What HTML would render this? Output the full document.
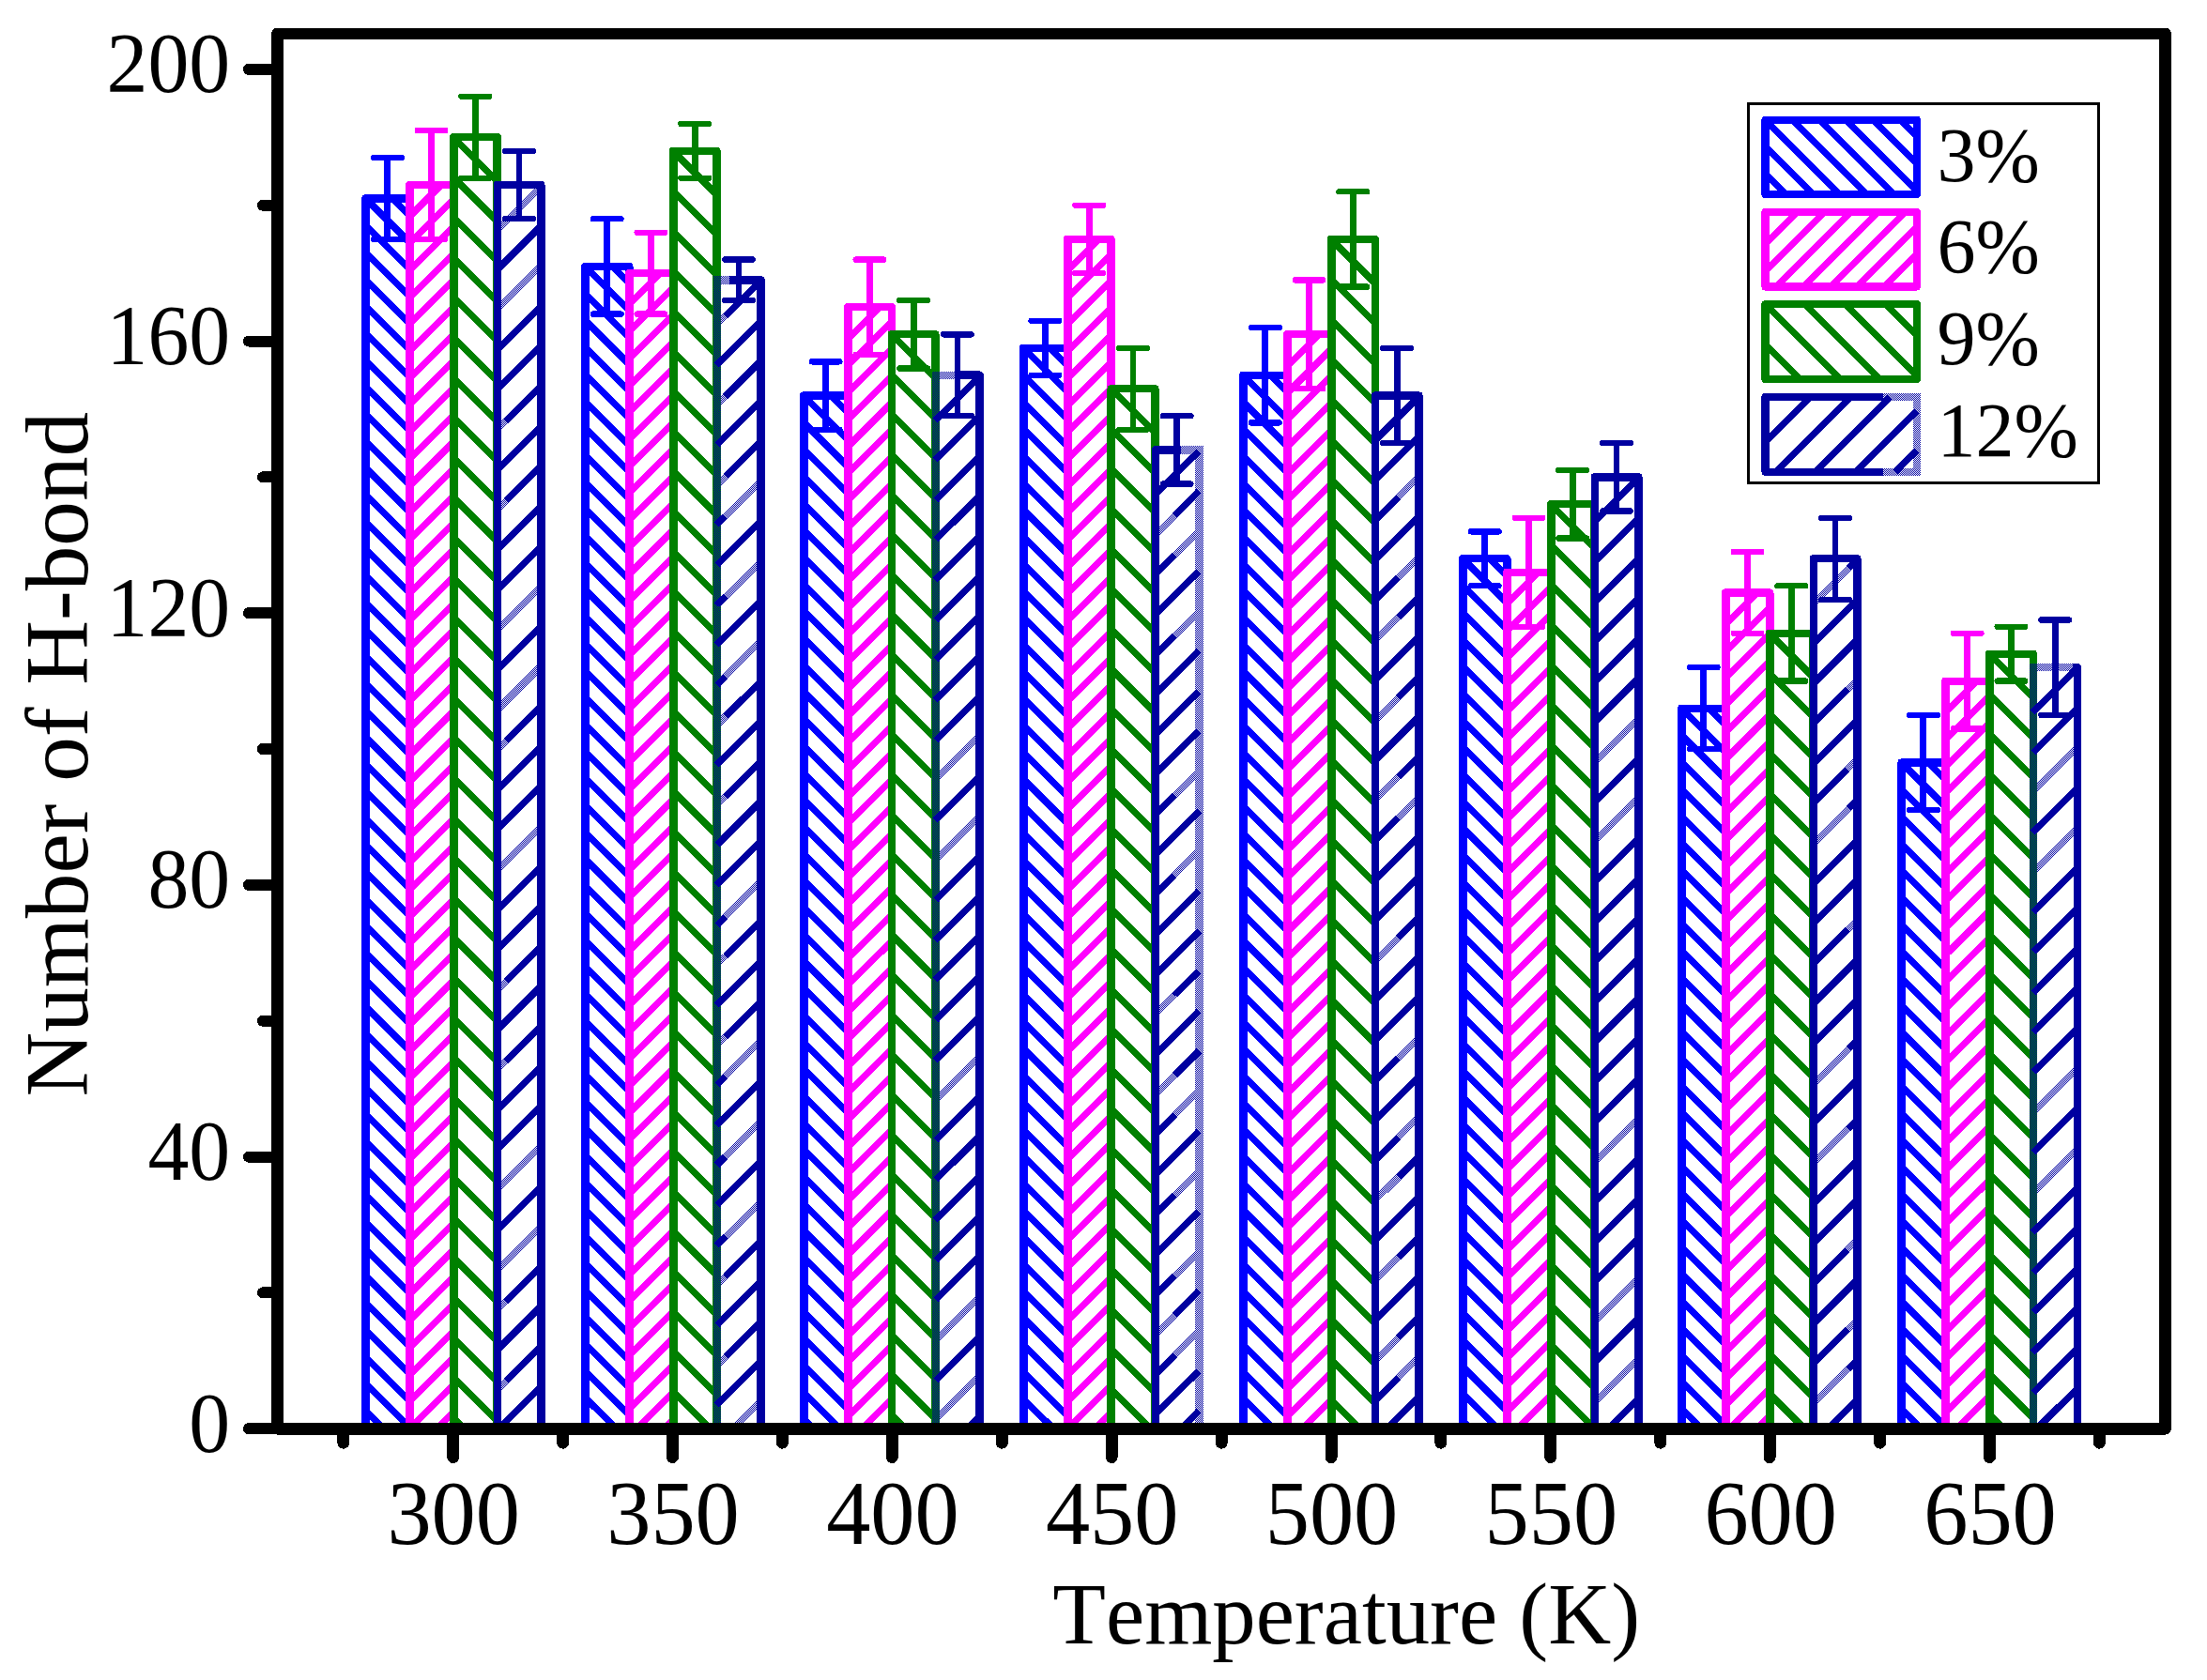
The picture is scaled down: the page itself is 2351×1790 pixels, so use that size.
<!DOCTYPE html>
<html lang="en"><head><meta charset="utf-8"><title>Number of H-bond vs Temperature</title>
<style>html,body{margin:0;padding:0;background:#fff;overflow:hidden}svg{display:block}text{font-kerning:none;font-family:"Liberation Serif","Times New Roman",serif;fill:#000}</style></head><body>
<svg width="2351" height="1790" viewBox="0 0 2351 1790">
<rect width="2351" height="1790" fill="#fff"/>
<defs><pattern id="dl" width="2" height="2" patternUnits="userSpaceOnUse"><rect width="1" height="1" fill="#0000a0"/><rect x="1" y="1" width="1" height="1" fill="#0000a0"/></pattern></defs>
<g fill="none" shape-rendering="crispEdges">
<path d="M418.1 211.4L436.2 229.5M389.4 211.4L436.2 258.2M389.4 240.1L436.2 286.9M389.4 268.8L436.2 315.6M389.4 297.5L436.2 344.3M389.4 326.2L436.2 373M389.4 354.9L436.2 401.7M389.4 383.6L436.2 430.4M389.4 412.3L436.2 459.1M389.4 441L436.2 487.8M389.4 469.7L436.2 516.5M389.4 498.4L436.2 545.2M389.4 527.1L436.2 573.9M389.4 555.8L436.2 602.6M389.4 584.5L436.2 631.3M389.4 613.2L436.2 660M389.4 641.9L436.2 688.7M389.4 670.6L436.2 717.4M389.4 699.3L436.2 746.1M389.4 728L436.2 774.8M389.4 756.7L436.2 803.5M389.4 785.4L436.2 832.2M389.4 814.1L436.2 860.9M389.4 842.8L436.2 889.6M389.4 871.5L436.2 918.3M389.4 900.2L436.2 947M389.4 928.9L436.2 975.7M389.4 957.6L436.2 1004.4M389.4 986.3L436.2 1033.1M389.4 1015L436.2 1061.8M389.4 1043.7L436.2 1090.5M389.4 1072.4L436.2 1119.2M389.4 1101.1L436.2 1147.9M389.4 1129.8L436.2 1176.6M389.4 1158.5L436.2 1205.3M389.4 1187.2L436.2 1234M389.4 1215.9L436.2 1262.7M389.4 1244.6L436.2 1291.4M389.4 1273.3L436.2 1320.1M389.4 1302L436.2 1348.8M389.4 1330.7L436.2 1377.5M389.4 1359.4L436.2 1406.2M389.4 1388.1L436.2 1434.9M389.4 1416.8L436.2 1463.6M389.4 1445.5L436.2 1492.3M389.4 1474.2L436.2 1521M389.4 1502.9L408.7 1522.2" stroke="#0000ff" stroke-width="7.1"/>
<rect x="389.4" y="211.4" width="46.8" height="1310.8" stroke="#0000ff" stroke-width="8.2" stroke-linejoin="round"/>
<path d="M389.6 211.4V1522.2" stroke="#0000ff" stroke-width="8.9"/>
<path d="M436.4 211.4V1522.2" stroke="#0000ff" stroke-width="8.9"/>
<path d="M412.8 168V254.9" stroke="#0000ff" stroke-width="6.8"/>
<path d="M398 168H427.6M398 254.9H427.6" stroke="#0000ff" stroke-width="6.4" stroke-linecap="round"/>
<path d="M436.1 230.9L470 197M436.1 259.6L482.9 212.8M436.1 288.3L482.9 241.5M436.1 317L482.9 270.2M436.1 345.7L482.9 298.9M436.1 374.4L482.9 327.6M436.1 403.1L482.9 356.3M436.1 431.8L482.9 385M436.1 460.5L482.9 413.7M436.1 489.2L482.9 442.4M436.1 517.9L482.9 471.1M436.1 546.6L482.9 499.8M436.1 575.3L482.9 528.5M436.1 604L482.9 557.2M436.1 632.7L482.9 585.9M436.1 661.4L482.9 614.6M436.1 690.1L482.9 643.3M436.1 718.8L482.9 672M436.1 747.5L482.9 700.7M436.1 776.2L482.9 729.4M436.1 804.9L482.9 758.1M436.1 833.6L482.9 786.8M436.1 862.3L482.9 815.5M436.1 891L482.9 844.2M436.1 919.7L482.9 872.9M436.1 948.4L482.9 901.6M436.1 977.1L482.9 930.3M436.1 1005.8L482.9 959M436.1 1034.5L482.9 987.7M436.1 1063.2L482.9 1016.4M436.1 1091.9L482.9 1045.1M436.1 1120.6L482.9 1073.8M436.1 1149.3L482.9 1102.5M436.1 1178L482.9 1131.2M436.1 1206.7L482.9 1159.9M436.1 1235.4L482.9 1188.6M436.1 1264.1L482.9 1217.3M436.1 1292.8L482.9 1246M436.1 1321.5L482.9 1274.7M436.1 1350.2L482.9 1303.4M436.1 1378.9L482.9 1332.1M436.1 1407.6L482.9 1360.8M436.1 1436.3L482.9 1389.5M436.1 1465L482.9 1418.2M436.1 1493.7L482.9 1446.9M436.2 1522.2L482.9 1475.6M464.9 1522.2L482.9 1504.3" stroke="#ff00ff" stroke-width="7.1"/>
<rect x="436.1" y="197" width="46.8" height="1325.3" stroke="#ff00ff" stroke-width="8.2" stroke-linejoin="round"/>
<path d="M436.4 197V1522.2" stroke="#ff00ff" stroke-width="8.9"/>
<path d="M483.2 197V1522.2" stroke="#ff00ff" stroke-width="8.9"/>
<path d="M459.5 139V254.9" stroke="#ff00ff" stroke-width="6.8"/>
<path d="M444.7 139H474.3M444.7 254.9H474.3" stroke="#ff00ff" stroke-width="6.4" stroke-linecap="round"/>
<path d="M482.9 146.3L529.7 193.1M482.9 188.9L529.7 235.7M482.9 231.5L529.7 278.3M482.9 274.2L529.7 321M482.9 316.8L529.7 363.6M482.9 359.4L529.7 406.2M482.9 402.1L529.7 448.9M482.9 444.7L529.7 491.5M482.9 487.3L529.7 534.1M482.9 529.9L529.7 576.7M482.9 572.6L529.7 619.4M482.9 615.2L529.7 662M482.9 657.8L529.7 704.6M482.9 700.5L529.7 747.3M482.9 743.1L529.7 789.9M482.9 785.7L529.7 832.5M482.9 828.4L529.7 875.2M482.9 871L529.7 917.8M482.9 913.6L529.7 960.4M482.9 956.2L529.7 1003M482.9 998.9L529.7 1045.7M482.9 1041.5L529.7 1088.3M482.9 1084.1L529.7 1130.9M482.9 1126.8L529.7 1173.6M482.9 1169.4L529.7 1216.2M482.9 1212L529.7 1258.8M482.9 1254.7L529.7 1301.5M482.9 1297.3L529.7 1344.1M482.9 1339.9L529.7 1386.7M482.9 1382.5L529.7 1429.3M482.9 1425.2L529.7 1472M482.9 1467.8L529.7 1514.6M482.9 1510.4L494.7 1522.2" stroke="#008000" stroke-width="7.1"/>
<rect x="482.9" y="146.3" width="46.8" height="1376" stroke="#008000" stroke-width="8.2" stroke-linejoin="round"/>
<path d="M483.1 146.3V1522.2" stroke="#008000" stroke-width="8.9"/>
<path d="M529.9 146.3V1522.2" stroke="#008000" stroke-width="8.9"/>
<path d="M506.3 102.8V189.7" stroke="#008000" stroke-width="6.8"/>
<path d="M491.5 102.8H521.1M491.5 189.7H521.1" stroke="#008000" stroke-width="6.4" stroke-linecap="round"/>
<path d="M529.6 244.8L576.4 198M529.6 330.1L576.4 283.3M529.6 457.9L539 448.6M529.6 543.2L539 533.8M529.6 671.1L576.4 624.3M529.6 756.4L576.4 709.6M529.6 799L539 789.6M529.6 926.9L576.4 880.1M529.6 1054.8L539 1045.4M529.6 1140L539 1130.7M529.6 1267.9L576.4 1221.1M529.6 1353.2L576.4 1306.4M529.6 1395.8L539 1386.4M529.6 1481.1L539 1471.7" stroke="url(#dl)" stroke-width="7.1"/>
<path d="M529.6 287.4L576.4 240.6M529.6 372.7L576.4 325.9M529.6 415.3L576.4 368.5M539 448.6L576.4 411.1M529.6 500.6L576.4 453.8M539 533.8L576.4 496.4M529.6 585.8L576.4 539M529.6 628.5L576.4 581.7M529.6 713.7L576.4 666.9M539 789.6L576.4 752.2M529.6 841.6L576.4 794.8M529.6 884.2L576.4 837.4M529.6 969.5L576.4 922.7M529.6 1012.1L576.4 965.3M539 1045.4L576.4 1008M529.6 1097.4L576.4 1050.6M539 1130.7L576.4 1093.2M529.6 1182.7L576.4 1135.9M529.6 1225.3L576.4 1178.5M529.6 1310.5L576.4 1263.7M539 1386.4L576.4 1349M529.6 1438.4L576.4 1391.6M539 1471.7L576.4 1434.3M531.1 1522.2L576.4 1476.9" stroke="#0000a0" stroke-width="7.1"/>
<rect x="529.6" y="197" width="46.8" height="1325.3" stroke="#0000a0" stroke-width="8.2" stroke-linejoin="round"/>
<path d="M530.2 197V1522.2" stroke="#0000a0" stroke-width="8.1"/>
<path d="M576.7 197V1522.2" stroke="#0000a0" stroke-width="8.9"/>
<path d="M553 160.8V233.2" stroke="#0000a0" stroke-width="6.8"/>
<path d="M538.2 160.8H567.8M538.2 233.2H567.8" stroke="#0000a0" stroke-width="6.4" stroke-linecap="round"/>
<path d="M652 283.9L670.1 302M623.3 283.9L670.1 330.7M623.3 312.6L670.1 359.4M623.3 341.3L670.1 388.1M623.3 370L670.1 416.8M623.3 398.7L670.1 445.5M623.3 427.4L670.1 474.2M623.3 456.1L670.1 502.9M623.3 484.8L670.1 531.6M623.3 513.5L670.1 560.3M623.3 542.2L670.1 589M623.3 570.9L670.1 617.7M623.3 599.6L670.1 646.4M623.3 628.3L670.1 675.1M623.3 657L670.1 703.8M623.3 685.7L670.1 732.5M623.3 714.4L670.1 761.2M623.3 743.1L670.1 789.9M623.3 771.8L670.1 818.6M623.3 800.5L670.1 847.3M623.3 829.2L670.1 876M623.3 857.9L670.1 904.7M623.3 886.6L670.1 933.4M623.3 915.3L670.1 962.1M623.3 944L670.1 990.8M623.3 972.7L670.1 1019.5M623.3 1001.4L670.1 1048.2M623.3 1030.1L670.1 1076.9M623.3 1058.8L670.1 1105.6M623.3 1087.5L670.1 1134.3M623.3 1116.2L670.1 1163M623.3 1144.9L670.1 1191.7M623.3 1173.6L670.1 1220.4M623.3 1202.3L670.1 1249.1M623.3 1231L670.1 1277.8M623.3 1259.7L670.1 1306.5M623.3 1288.4L670.1 1335.2M623.3 1317.1L670.1 1363.9M623.3 1345.8L670.1 1392.6M623.3 1374.5L670.1 1421.3M623.3 1403.2L670.1 1450M623.3 1431.9L670.1 1478.7M623.3 1460.6L670.1 1507.4M623.3 1489.3L656.3 1522.2" stroke="#0000ff" stroke-width="7.1"/>
<rect x="623.3" y="283.9" width="46.8" height="1238.4" stroke="#0000ff" stroke-width="8.2" stroke-linejoin="round"/>
<path d="M623.5 283.9V1522.2" stroke="#0000ff" stroke-width="8.9"/>
<path d="M670.3 283.9V1522.2" stroke="#0000ff" stroke-width="8.9"/>
<path d="M646.7 233.2V334.6" stroke="#0000ff" stroke-width="6.8"/>
<path d="M631.9 233.2H661.5M631.9 334.6H661.5" stroke="#0000ff" stroke-width="6.4" stroke-linecap="round"/>
<path d="M670 325L703.9 291.1M670 353.7L716.8 306.9M670 382.4L716.8 335.6M670 411.1L716.8 364.3M670 439.8L716.8 393M670 468.5L716.8 421.7M670 497.2L716.8 450.4M670 525.9L716.8 479.1M670 554.6L716.8 507.8M670 583.3L716.8 536.5M670 612L716.8 565.2M670 640.7L716.8 593.9M670 669.4L716.8 622.6M670 698.1L716.8 651.3M670 726.8L716.8 680M670 755.5L716.8 708.7M670 784.2L716.8 737.4M670 812.9L716.8 766.1M670 841.6L716.8 794.8M670 870.3L716.8 823.5M670 899L716.8 852.2M670 927.7L716.8 880.9M670 956.4L716.8 909.6M670 985.1L716.8 938.3M670 1013.8L716.8 967M670 1042.5L716.8 995.7M670 1071.2L716.8 1024.4M670 1099.9L716.8 1053.1M670 1128.6L716.8 1081.8M670 1157.3L716.8 1110.5M670 1186L716.8 1139.2M670 1214.7L716.8 1167.9M670 1243.4L716.8 1196.6M670 1272.1L716.8 1225.3M670 1300.8L716.8 1254M670 1329.5L716.8 1282.7M670 1358.2L716.8 1311.4M670 1386.9L716.8 1340.1M670 1415.6L716.8 1368.8M670 1444.3L716.8 1397.5M670 1473L716.8 1426.2M670 1501.7L716.8 1454.9M678.2 1522.2L716.8 1483.6M706.9 1522.2L716.8 1512.3" stroke="#ff00ff" stroke-width="7.1"/>
<rect x="670" y="291.1" width="46.8" height="1231.1" stroke="#ff00ff" stroke-width="8.2" stroke-linejoin="round"/>
<path d="M670.3 291.1V1522.2" stroke="#ff00ff" stroke-width="8.9"/>
<path d="M717.1 291.1V1522.2" stroke="#ff00ff" stroke-width="8.9"/>
<path d="M693.4 247.7V334.6" stroke="#ff00ff" stroke-width="6.8"/>
<path d="M678.6 247.7H708.2M678.6 334.6H708.2" stroke="#ff00ff" stroke-width="6.4" stroke-linecap="round"/>
<path d="M716.8 160.8L763.6 207.6M716.8 203.4L763.6 250.2M716.8 246L763.6 292.8M716.8 288.6L763.6 335.4M716.8 331.3L763.6 378.1M716.8 373.9L763.6 420.7M716.8 416.5L763.6 463.3M716.8 459.2L763.6 506M716.8 501.8L763.6 548.6M716.8 544.4L763.6 591.2M716.8 587.1L763.6 633.9M716.8 629.7L763.6 676.5M716.8 672.3L763.6 719.1M716.8 714.9L763.6 761.7M716.8 757.6L763.6 804.4M716.8 800.2L763.6 847M716.8 842.8L763.6 889.6M716.8 885.5L763.6 932.3M716.8 928.1L763.6 974.9M716.8 970.7L763.6 1017.5M716.8 1013.4L763.6 1060.2M716.8 1056L763.6 1102.8M716.8 1098.6L763.6 1145.4M716.8 1141.2L763.6 1188M716.8 1183.9L763.6 1230.7M716.8 1226.5L763.6 1273.3M716.8 1269.1L763.6 1315.9M716.8 1311.8L763.6 1358.6M716.8 1354.4L763.6 1401.2M716.8 1397L763.6 1443.8M716.8 1439.7L763.6 1486.5M716.8 1482.3L756.8 1522.2" stroke="#008000" stroke-width="7.1"/>
<rect x="716.8" y="160.8" width="46.8" height="1361.5" stroke="#008000" stroke-width="8.2" stroke-linejoin="round"/>
<path d="M717.1 160.8V1522.2" stroke="#008000" stroke-width="8.9"/>
<path d="M763.9 160.8V1522.2" stroke="#008000" stroke-width="8.9"/>
<path d="M740.2 131.8V189.7" stroke="#008000" stroke-width="6.8"/>
<path d="M725.4 131.8H755M725.4 189.7H755" stroke="#008000" stroke-width="6.4" stroke-linecap="round"/>
<path d="M763.6 346.2L772.9 336.8M763.6 431.4L772.9 422.1M763.6 516.7L772.9 507.3M772.9 550L810.4 512.5M772.9 635.2L810.4 597.8M772.9 720.5L810.4 683.1M763.6 772.5L772.9 763.1M763.6 857.7L772.9 848.4M772.9 976.3L810.4 938.8M763.6 1028.3L772.9 1018.9M763.6 1113.5L772.9 1104.2M772.9 1146.8L810.4 1109.4M772.9 1232.1L810.4 1194.6M772.9 1317.3L810.4 1279.9M763.6 1369.3L772.9 1359.9M763.6 1454.6L772.9 1445.2M781.2 1522.2L810.4 1493" stroke="url(#dl)" stroke-width="7.1"/>
<path d="M760.1 298.4H777.3" stroke="url(#dl)" stroke-width="8.2"/>
<path d="M764.2 294.3V1522.2" stroke="url(#dl)" stroke-width="8.1"/>
<path d="M777.3 298.4H810.6V1522.2" stroke="#0000a0" stroke-width="8.5" stroke-linejoin="round"/>
<path d="M772.9 336.8L810.4 299.4M763.6 388.8L810.4 342M772.9 422.1L810.4 384.6M763.6 474.1L810.4 427.3M772.9 507.3L810.4 469.9M763.6 559.3L772.9 550M763.6 602L810.4 555.2M763.6 644.6L772.9 635.2M763.6 687.2L810.4 640.4M763.6 729.9L772.9 720.5M772.9 763.1L810.4 725.7M763.6 815.1L810.4 768.3M772.9 848.4L810.4 810.9M763.6 900.4L810.4 853.6M763.6 943L810.4 896.2M763.6 985.6L772.9 976.3M772.9 1018.9L810.4 981.5M763.6 1070.9L810.4 1024.1M772.9 1104.2L810.4 1066.7M763.6 1156.2L772.9 1146.8M763.6 1198.8L810.4 1152M763.6 1241.4L772.9 1232.1M763.6 1284L810.4 1237.2M763.6 1326.7L772.9 1317.3M772.9 1359.9L810.4 1322.5M763.6 1411.9L810.4 1365.1M772.9 1445.2L810.4 1407.8M763.6 1497.2L810.4 1450.4" stroke="#0000a0" stroke-width="7.1"/>
<path d="M787 276.6V320.1" stroke="#0000a0" stroke-width="6.8"/>
<path d="M772.2 276.6H801.8M772.2 320.1H801.8" stroke="#0000a0" stroke-width="6.4" stroke-linecap="round"/>
<path d="M884.9 421.5L903 439.6M856.2 421.5L903 468.3M856.2 450.2L903 497M856.2 478.9L903 525.7M856.2 507.6L903 554.4M856.2 536.3L903 583.1M856.2 565L903 611.8M856.2 593.7L903 640.5M856.2 622.4L903 669.2M856.2 651.1L903 697.9M856.2 679.8L903 726.6M856.2 708.5L903 755.3M856.2 737.2L903 784M856.2 765.9L903 812.7M856.2 794.6L903 841.4M856.2 823.3L903 870.1M856.2 852L903 898.8M856.2 880.7L903 927.5M856.2 909.4L903 956.2M856.2 938.1L903 984.9M856.2 966.8L903 1013.6M856.2 995.5L903 1042.3M856.2 1024.2L903 1071M856.2 1052.9L903 1099.7M856.2 1081.6L903 1128.4M856.2 1110.3L903 1157.1M856.2 1139L903 1185.8M856.2 1167.7L903 1214.5M856.2 1196.4L903 1243.2M856.2 1225.1L903 1271.9M856.2 1253.8L903 1300.6M856.2 1282.5L903 1329.3M856.2 1311.2L903 1358M856.2 1339.9L903 1386.7M856.2 1368.6L903 1415.4M856.2 1397.3L903 1444.1M856.2 1426L903 1472.8M856.2 1454.7L903 1501.5M856.2 1483.4L895.1 1522.2M856.2 1512.1L866.4 1522.2" stroke="#0000ff" stroke-width="7.1"/>
<rect x="856.2" y="421.5" width="46.8" height="1100.8" stroke="#0000ff" stroke-width="8.2" stroke-linejoin="round"/>
<path d="M856.5 421.5V1522.2" stroke="#0000ff" stroke-width="8.9"/>
<path d="M903.3 421.5V1522.2" stroke="#0000ff" stroke-width="8.9"/>
<path d="M879.6 385.3V457.7" stroke="#0000ff" stroke-width="6.8"/>
<path d="M864.8 385.3H894.4M864.8 457.7H894.4" stroke="#0000ff" stroke-width="6.4" stroke-linecap="round"/>
<path d="M903 361.2L936.9 327.3M903 389.9L949.8 343.1M903 418.6L949.8 371.8M903 447.3L949.8 400.5M903 476L949.8 429.2M903 504.7L949.8 457.9M903 533.4L949.8 486.6M903 562.1L949.8 515.3M903 590.8L949.8 544M903 619.5L949.8 572.7M903 648.2L949.8 601.4M903 676.9L949.8 630.1M903 705.6L949.8 658.8M903 734.3L949.8 687.5M903 763L949.8 716.2M903 791.7L949.8 744.9M903 820.4L949.8 773.6M903 849.1L949.8 802.3M903 877.8L949.8 831M903 906.5L949.8 859.7M903 935.2L949.8 888.4M903 963.9L949.8 917.1M903 992.6L949.8 945.8M903 1021.3L949.8 974.5M903 1050L949.8 1003.2M903 1078.7L949.8 1031.9M903 1107.4L949.8 1060.6M903 1136.1L949.8 1089.3M903 1164.8L949.8 1118M903 1193.5L949.8 1146.7M903 1222.2L949.8 1175.4M903 1250.9L949.8 1204.1M903 1279.6L949.8 1232.8M903 1308.3L949.8 1261.5M903 1337L949.8 1290.2M903 1365.7L949.8 1318.9M903 1394.4L949.8 1347.6M903 1423.1L949.8 1376.3M903 1451.8L949.8 1405M903 1480.5L949.8 1433.7M903 1509.2L949.8 1462.4M918.6 1522.2L949.8 1491.1" stroke="#ff00ff" stroke-width="7.1"/>
<rect x="903" y="327.3" width="46.8" height="1194.9" stroke="#ff00ff" stroke-width="8.2" stroke-linejoin="round"/>
<path d="M903.2 327.3V1522.2" stroke="#ff00ff" stroke-width="8.9"/>
<path d="M950 327.3V1522.2" stroke="#ff00ff" stroke-width="8.9"/>
<path d="M926.4 276.6V378" stroke="#ff00ff" stroke-width="6.8"/>
<path d="M911.6 276.6H941.2M911.6 378H941.2" stroke="#ff00ff" stroke-width="6.4" stroke-linecap="round"/>
<path d="M949.7 356.3L996.5 403.1M949.7 398.9L996.5 445.7M949.7 441.5L996.5 488.3M949.7 484.2L996.5 531M949.7 526.8L996.5 573.6M949.7 569.4L996.5 616.2M949.7 612.1L996.5 658.9M949.7 654.7L996.5 701.5M949.7 697.3L996.5 744.1M949.7 740L996.5 786.8M949.7 782.6L996.5 829.4M949.7 825.2L996.5 872M949.7 867.8L996.5 914.6M949.7 910.5L996.5 957.3M949.7 953.1L996.5 999.9M949.7 995.7L996.5 1042.5M949.7 1038.4L996.5 1085.2M949.7 1081L996.5 1127.8M949.7 1123.6L996.5 1170.4M949.7 1166.3L996.5 1213.1M949.7 1208.9L996.5 1255.7M949.7 1251.5L996.5 1298.3M949.7 1294.1L996.5 1340.9M949.7 1336.8L996.5 1383.6M949.7 1379.4L996.5 1426.2M949.7 1422L996.5 1468.8M949.7 1464.7L996.5 1511.5M949.7 1507.3L964.7 1522.2" stroke="#008000" stroke-width="7.1"/>
<rect x="949.7" y="356.3" width="46.8" height="1166" stroke="#008000" stroke-width="8.2" stroke-linejoin="round"/>
<path d="M950 356.3V1522.2" stroke="#008000" stroke-width="8.9"/>
<path d="M996.8 356.3V1522.2" stroke="#008000" stroke-width="8.9"/>
<path d="M973.1 320.1V392.5" stroke="#008000" stroke-width="6.8"/>
<path d="M958.3 320.1H987.9M958.3 392.5H987.9" stroke="#008000" stroke-width="6.4" stroke-linecap="round"/>
<path d="M996.5 831.2L1043.3 784.4M996.5 916.5L1043.3 869.7M996.5 1172.3L1043.3 1125.5M996.5 1428.1L1043.3 1381.3M996.5 1513.3L1043.3 1466.5" stroke="url(#dl)" stroke-width="7.1"/>
<path d="M993.1 399.7H1016.5" stroke="url(#dl)" stroke-width="8.2"/>
<path d="M997.1 395.6V1522.2" stroke="url(#dl)" stroke-width="8.1"/>
<path d="M1016.5 399.7H1043.6V1522.2" stroke="#0000a0" stroke-width="8.5" stroke-linejoin="round"/>
<path d="M996.5 447.6L1043.3 400.8M996.5 490.2L1043.3 443.4M996.5 532.8L1043.3 486M996.5 575.5L1043.3 528.7M996.5 618.1L1043.3 571.3M996.5 660.7L1043.3 613.9M996.5 703.4L1043.3 656.6M996.5 746L1043.3 699.2M996.5 788.6L1043.3 741.8M996.5 873.9L1043.3 827.1M996.5 959.1L1043.3 912.3M996.5 1001.8L1043.3 955M996.5 1044.4L1043.3 997.6M996.5 1087L1043.3 1040.2M996.5 1129.7L1043.3 1082.9M996.5 1214.9L1043.3 1168.1M996.5 1257.5L1043.3 1210.7M996.5 1300.2L1043.3 1253.4M996.5 1342.8L1043.3 1296M996.5 1385.4L1043.3 1338.6M996.5 1470.7L1043.3 1423.9M1030.2 1522.2L1043.3 1509.2" stroke="#0000a0" stroke-width="7.1"/>
<path d="M1019.9 356.3V443.2" stroke="#0000a0" stroke-width="6.8"/>
<path d="M1005.1 356.3H1034.7M1005.1 443.2H1034.7" stroke="#0000a0" stroke-width="6.4" stroke-linecap="round"/>
<path d="M1118.7 370.8L1136.8 388.9M1090 370.8L1136.8 417.6M1090 399.5L1136.8 446.3M1090 428.2L1136.8 475M1090 456.9L1136.8 503.7M1090 485.6L1136.8 532.4M1090 514.3L1136.8 561.1M1090 543L1136.8 589.8M1090 571.7L1136.8 618.5M1090 600.4L1136.8 647.2M1090 629.1L1136.8 675.9M1090 657.8L1136.8 704.6M1090 686.5L1136.8 733.3M1090 715.2L1136.8 762M1090 743.9L1136.8 790.7M1090 772.6L1136.8 819.4M1090 801.3L1136.8 848.1M1090 830L1136.8 876.8M1090 858.7L1136.8 905.5M1090 887.4L1136.8 934.2M1090 916.1L1136.8 962.9M1090 944.8L1136.8 991.6M1090 973.5L1136.8 1020.3M1090 1002.2L1136.8 1049M1090 1030.9L1136.8 1077.7M1090 1059.6L1136.8 1106.4M1090 1088.3L1136.8 1135.1M1090 1117L1136.8 1163.8M1090 1145.7L1136.8 1192.5M1090 1174.4L1136.8 1221.2M1090 1203.1L1136.8 1249.9M1090 1231.8L1136.8 1278.6M1090 1260.5L1136.8 1307.3M1090 1289.2L1136.8 1336M1090 1317.9L1136.8 1364.7M1090 1346.6L1136.8 1393.4M1090 1375.3L1136.8 1422.1M1090 1404L1136.8 1450.8M1090 1432.7L1136.8 1479.5M1090 1461.4L1136.8 1508.2M1090 1490.1L1122.2 1522.2" stroke="#0000ff" stroke-width="7.1"/>
<rect x="1090" y="370.8" width="46.8" height="1151.5" stroke="#0000ff" stroke-width="8.2" stroke-linejoin="round"/>
<path d="M1090.3 370.8V1522.2" stroke="#0000ff" stroke-width="8.9"/>
<path d="M1137.1 370.8V1522.2" stroke="#0000ff" stroke-width="8.9"/>
<path d="M1113.4 341.8V399.7" stroke="#0000ff" stroke-width="6.8"/>
<path d="M1098.6 341.8H1128.2M1098.6 399.7H1128.2" stroke="#0000ff" stroke-width="6.4" stroke-linecap="round"/>
<path d="M1136.8 288.8L1170.7 254.9M1136.8 317.5L1183.6 270.7M1136.8 346.2L1183.6 299.4M1136.8 374.9L1183.6 328.1M1136.8 403.6L1183.6 356.8M1136.8 432.3L1183.6 385.5M1136.8 461L1183.6 414.2M1136.8 489.7L1183.6 442.9M1136.8 518.4L1183.6 471.6M1136.8 547.1L1183.6 500.3M1136.8 575.8L1183.6 529M1136.8 604.5L1183.6 557.7M1136.8 633.2L1183.6 586.4M1136.8 661.9L1183.6 615.1M1136.8 690.6L1183.6 643.8M1136.8 719.3L1183.6 672.5M1136.8 748L1183.6 701.2M1136.8 776.7L1183.6 729.9M1136.8 805.4L1183.6 758.6M1136.8 834.1L1183.6 787.3M1136.8 862.8L1183.6 816M1136.8 891.5L1183.6 844.7M1136.8 920.2L1183.6 873.4M1136.8 948.9L1183.6 902.1M1136.8 977.6L1183.6 930.8M1136.8 1006.3L1183.6 959.5M1136.8 1035L1183.6 988.2M1136.8 1063.7L1183.6 1016.9M1136.8 1092.4L1183.6 1045.6M1136.8 1121.1L1183.6 1074.3M1136.8 1149.8L1183.6 1103M1136.8 1178.5L1183.6 1131.7M1136.8 1207.2L1183.6 1160.4M1136.8 1235.9L1183.6 1189.1M1136.8 1264.6L1183.6 1217.8M1136.8 1293.3L1183.6 1246.5M1136.8 1322L1183.6 1275.2M1136.8 1350.7L1183.6 1303.9M1136.8 1379.4L1183.6 1332.6M1136.8 1408.1L1183.6 1361.3M1136.8 1436.8L1183.6 1390M1136.8 1465.5L1183.6 1418.7M1136.8 1494.2L1183.6 1447.4M1137.5 1522.2L1183.6 1476.1M1166.2 1522.2L1183.6 1504.8" stroke="#ff00ff" stroke-width="7.1"/>
<rect x="1136.8" y="254.9" width="46.8" height="1267.3" stroke="#ff00ff" stroke-width="8.2" stroke-linejoin="round"/>
<path d="M1137.1 254.9V1522.2" stroke="#ff00ff" stroke-width="8.9"/>
<path d="M1183.9 254.9V1522.2" stroke="#ff00ff" stroke-width="8.9"/>
<path d="M1160.2 218.7V291.1" stroke="#ff00ff" stroke-width="6.8"/>
<path d="M1145.4 218.7H1175M1145.4 291.1H1175" stroke="#ff00ff" stroke-width="6.4" stroke-linecap="round"/>
<path d="M1183.6 414.2L1230.4 461M1183.6 456.9L1230.4 503.7M1183.6 499.5L1230.4 546.3M1183.6 542.1L1230.4 588.9M1183.6 584.7L1230.4 631.5M1183.6 627.4L1230.4 674.2M1183.6 670L1230.4 716.8M1183.6 712.6L1230.4 759.4M1183.6 755.3L1230.4 802.1M1183.6 797.9L1230.4 844.7M1183.6 840.5L1230.4 887.3M1183.6 883.2L1230.4 930M1183.6 925.8L1230.4 972.6M1183.6 968.4L1230.4 1015.2M1183.6 1011L1230.4 1057.8M1183.6 1053.7L1230.4 1100.5M1183.6 1096.3L1230.4 1143.1M1183.6 1138.9L1230.4 1185.7M1183.6 1181.6L1230.4 1228.4M1183.6 1224.2L1230.4 1271M1183.6 1266.8L1230.4 1313.6M1183.6 1309.5L1230.4 1356.3M1183.6 1352.1L1230.4 1398.9M1183.6 1394.7L1230.4 1441.5M1183.6 1437.3L1230.4 1484.1M1183.6 1480L1225.8 1522.2" stroke="#008000" stroke-width="7.1"/>
<rect x="1183.6" y="414.2" width="46.8" height="1108" stroke="#008000" stroke-width="8.2" stroke-linejoin="round"/>
<path d="M1183.8 414.2V1522.2" stroke="#008000" stroke-width="8.9"/>
<path d="M1230.6 414.2V1522.2" stroke="#008000" stroke-width="8.9"/>
<path d="M1207 370.8V457.7" stroke="#008000" stroke-width="6.8"/>
<path d="M1192.2 370.8H1221.8M1192.2 457.7H1221.8" stroke="#008000" stroke-width="6.4" stroke-linecap="round"/>
<path d="M1230.3 569.9L1251.4 548.8M1251.4 591.4L1277.1 565.7M1251.4 676.7L1277.1 651M1251.4 847.2L1277.1 821.5M1251.4 932.5L1277.1 906.7M1230.3 1081.4L1251.4 1060.4M1230.3 1166.7L1251.4 1145.6M1251.4 1188.3L1277.1 1162.5M1251.4 1273.5L1277.1 1247.8M1251.4 1358.8L1277.1 1333M1230.3 1422.5L1251.4 1401.4M1251.4 1444L1277.1 1418.3" stroke="url(#dl)" stroke-width="7.1"/>
<path d="M1258 479.4H1281.8" stroke="url(#dl)" stroke-width="8.2"/>
<path d="M1277.4 475.3V1522.2" stroke="url(#dl)" stroke-width="8.9"/>
<path d="M1258 479.4H1230.9V1522.2" stroke="#0000a0" stroke-width="8.5" stroke-linejoin="round"/>
<path d="M1230.3 527.2L1277.1 480.4M1251.4 548.8L1277.1 523.1M1230.3 612.5L1251.4 591.4M1230.3 655.1L1277.1 608.3M1230.3 697.8L1251.4 676.7M1230.3 740.4L1277.1 693.6M1230.3 783L1277.1 736.2M1230.3 825.6L1277.1 778.8M1230.3 868.3L1251.4 847.2M1230.3 910.9L1277.1 864.1M1230.3 953.5L1251.4 932.5M1230.3 996.2L1277.1 949.4M1230.3 1038.8L1277.1 992M1251.4 1060.4L1277.1 1034.6M1230.3 1124.1L1277.1 1077.3M1251.4 1145.6L1277.1 1119.9M1230.3 1209.3L1251.4 1188.3M1230.3 1251.9L1277.1 1205.1M1230.3 1294.6L1251.4 1273.5M1230.3 1337.2L1277.1 1290.4M1230.3 1379.8L1251.4 1358.8M1251.4 1401.4L1277.1 1375.7M1230.3 1465.1L1251.4 1444M1230.3 1507.7L1277.1 1460.9M1258.4 1522.2L1277.1 1503.6" stroke="#0000a0" stroke-width="7.1"/>
<path d="M1253.7 443.2V515.6" stroke="#0000a0" stroke-width="6.8"/>
<path d="M1238.9 443.2H1268.5M1238.9 515.6H1268.5" stroke="#0000a0" stroke-width="6.4" stroke-linecap="round"/>
<path d="M1353.1 399.7L1371.2 417.8M1324.4 399.7L1371.2 446.5M1324.4 428.4L1371.2 475.2M1324.4 457.1L1371.2 503.9M1324.4 485.8L1371.2 532.6M1324.4 514.5L1371.2 561.3M1324.4 543.2L1371.2 590M1324.4 571.9L1371.2 618.7M1324.4 600.6L1371.2 647.4M1324.4 629.3L1371.2 676.1M1324.4 658L1371.2 704.8M1324.4 686.7L1371.2 733.5M1324.4 715.4L1371.2 762.2M1324.4 744.1L1371.2 790.9M1324.4 772.8L1371.2 819.6M1324.4 801.5L1371.2 848.3M1324.4 830.2L1371.2 877M1324.4 858.9L1371.2 905.7M1324.4 887.6L1371.2 934.4M1324.4 916.3L1371.2 963.1M1324.4 945L1371.2 991.8M1324.4 973.7L1371.2 1020.5M1324.4 1002.4L1371.2 1049.2M1324.4 1031.1L1371.2 1077.9M1324.4 1059.8L1371.2 1106.6M1324.4 1088.5L1371.2 1135.3M1324.4 1117.2L1371.2 1164M1324.4 1145.9L1371.2 1192.7M1324.4 1174.6L1371.2 1221.4M1324.4 1203.3L1371.2 1250.1M1324.4 1232L1371.2 1278.8M1324.4 1260.7L1371.2 1307.5M1324.4 1289.4L1371.2 1336.2M1324.4 1318.1L1371.2 1364.9M1324.4 1346.8L1371.2 1393.6M1324.4 1375.5L1371.2 1422.3M1324.4 1404.2L1371.2 1451M1324.4 1432.9L1371.2 1479.7M1324.4 1461.6L1371.2 1508.4M1324.4 1490.3L1356.3 1522.2" stroke="#0000ff" stroke-width="7.1"/>
<rect x="1324.4" y="399.7" width="46.8" height="1122.5" stroke="#0000ff" stroke-width="8.2" stroke-linejoin="round"/>
<path d="M1324.6 399.7V1522.2" stroke="#0000ff" stroke-width="8.9"/>
<path d="M1371.4 399.7V1522.2" stroke="#0000ff" stroke-width="8.9"/>
<path d="M1347.8 349V450.4" stroke="#0000ff" stroke-width="6.8"/>
<path d="M1333 349H1362.6M1333 450.4H1362.6" stroke="#0000ff" stroke-width="6.4" stroke-linecap="round"/>
<path d="M1371.1 390.2L1405 356.3M1371.1 418.9L1417.9 372.1M1371.1 447.6L1417.9 400.8M1371.1 476.3L1417.9 429.5M1371.1 505L1417.9 458.2M1371.1 533.7L1417.9 486.9M1371.1 562.4L1417.9 515.6M1371.1 591.1L1417.9 544.3M1371.1 619.8L1417.9 573M1371.1 648.5L1417.9 601.7M1371.1 677.2L1417.9 630.4M1371.1 705.9L1417.9 659.1M1371.1 734.6L1417.9 687.8M1371.1 763.3L1417.9 716.5M1371.1 792L1417.9 745.2M1371.1 820.7L1417.9 773.9M1371.1 849.4L1417.9 802.6M1371.1 878.1L1417.9 831.3M1371.1 906.8L1417.9 860M1371.1 935.5L1417.9 888.7M1371.1 964.2L1417.9 917.4M1371.1 992.9L1417.9 946.1M1371.1 1021.6L1417.9 974.8M1371.1 1050.3L1417.9 1003.5M1371.1 1079L1417.9 1032.2M1371.1 1107.7L1417.9 1060.9M1371.1 1136.4L1417.9 1089.6M1371.1 1165.1L1417.9 1118.3M1371.1 1193.8L1417.9 1147M1371.1 1222.5L1417.9 1175.7M1371.1 1251.2L1417.9 1204.4M1371.1 1279.9L1417.9 1233.1M1371.1 1308.6L1417.9 1261.8M1371.1 1337.3L1417.9 1290.5M1371.1 1366L1417.9 1319.2M1371.1 1394.7L1417.9 1347.9M1371.1 1423.4L1417.9 1376.6M1371.1 1452.1L1417.9 1405.3M1371.1 1480.8L1417.9 1434M1371.1 1509.5L1417.9 1462.7M1387.1 1522.2L1417.9 1491.4" stroke="#ff00ff" stroke-width="7.1"/>
<rect x="1371.1" y="356.3" width="46.8" height="1166" stroke="#ff00ff" stroke-width="8.2" stroke-linejoin="round"/>
<path d="M1371.4 356.3V1522.2" stroke="#ff00ff" stroke-width="8.9"/>
<path d="M1418.2 356.3V1522.2" stroke="#ff00ff" stroke-width="8.9"/>
<path d="M1394.5 298.4V414.2" stroke="#ff00ff" stroke-width="6.8"/>
<path d="M1379.7 298.4H1409.3M1379.7 414.2H1409.3" stroke="#ff00ff" stroke-width="6.4" stroke-linecap="round"/>
<path d="M1417.9 254.9L1464.7 301.7M1417.9 297.5L1464.7 344.3M1417.9 340.2L1464.7 387M1417.9 382.8L1464.7 429.6M1417.9 425.4L1464.7 472.2M1417.9 468.1L1464.7 514.9M1417.9 510.7L1464.7 557.5M1417.9 553.3L1464.7 600.1M1417.9 595.9L1464.7 642.7M1417.9 638.6L1464.7 685.4M1417.9 681.2L1464.7 728M1417.9 723.8L1464.7 770.6M1417.9 766.5L1464.7 813.3M1417.9 809.1L1464.7 855.9M1417.9 851.7L1464.7 898.5M1417.9 894.4L1464.7 941.2M1417.9 937L1464.7 983.8M1417.9 979.6L1464.7 1026.4M1417.9 1022.2L1464.7 1069M1417.9 1064.9L1464.7 1111.7M1417.9 1107.5L1464.7 1154.3M1417.9 1150.1L1464.7 1196.9M1417.9 1192.8L1464.7 1239.6M1417.9 1235.4L1464.7 1282.2M1417.9 1278L1464.7 1324.8M1417.9 1320.7L1464.7 1367.5M1417.9 1363.3L1464.7 1410.1M1417.9 1405.9L1464.7 1452.7M1417.9 1448.5L1464.7 1495.3M1417.9 1491.2L1449 1522.2" stroke="#008000" stroke-width="7.1"/>
<rect x="1417.9" y="254.9" width="46.8" height="1267.3" stroke="#008000" stroke-width="8.2" stroke-linejoin="round"/>
<path d="M1418.2 254.9V1522.2" stroke="#008000" stroke-width="8.9"/>
<path d="M1465 254.9V1522.2" stroke="#008000" stroke-width="8.9"/>
<path d="M1441.3 204.2V305.6" stroke="#008000" stroke-width="6.8"/>
<path d="M1426.5 204.2H1456.1M1426.5 305.6H1456.1" stroke="#008000" stroke-width="6.4" stroke-linecap="round"/>
<path d="M1489.5 529.8L1511.5 507.8M1489.5 615L1511.5 593M1464.7 682.4L1489.5 657.6M1464.7 767.7L1489.5 742.9M1464.7 853L1489.5 828.2M1489.5 870.8L1511.5 848.8M1464.7 1023.5L1489.5 998.7M1489.5 1126.6L1511.5 1104.6M1489.5 1211.8L1511.5 1189.8M1464.7 1279.3L1489.5 1254.5M1464.7 1364.5L1489.5 1339.7M1464.7 1449.8L1489.5 1425M1489.5 1467.6L1511.5 1445.6" stroke="url(#dl)" stroke-width="7.1"/>
<path d="M1464.7 469.3L1511.5 422.5M1464.7 511.9L1511.5 465.1M1464.7 554.6L1489.5 529.8M1464.7 597.2L1511.5 550.4M1464.7 639.8L1489.5 615M1489.5 657.6L1511.5 635.6M1464.7 725.1L1511.5 678.3M1489.5 742.9L1511.5 720.9M1464.7 810.3L1511.5 763.5M1489.5 828.2L1511.5 806.2M1464.7 895.6L1489.5 870.8M1464.7 938.2L1511.5 891.4M1464.7 980.9L1511.5 934.1M1489.5 998.7L1511.5 976.7M1464.7 1066.1L1511.5 1019.3M1464.7 1108.7L1511.5 1061.9M1464.7 1151.4L1489.5 1126.6M1464.7 1194L1511.5 1147.2M1464.7 1236.6L1489.5 1211.8M1489.5 1254.5L1511.5 1232.5M1464.7 1321.9L1511.5 1275.1M1489.5 1339.7L1511.5 1317.7M1464.7 1407.2L1511.5 1360.4M1489.5 1425L1511.5 1403M1464.7 1492.4L1489.5 1467.6M1477.5 1522.2L1511.5 1488.2" stroke="#0000a0" stroke-width="7.1"/>
<rect x="1464.7" y="421.5" width="46.8" height="1100.8" stroke="#0000a0" stroke-width="8.2" stroke-linejoin="round"/>
<path d="M1465.3 421.5V1522.2" stroke="#0000a0" stroke-width="8.1"/>
<path d="M1511.7 421.5V1522.2" stroke="#0000a0" stroke-width="8.9"/>
<path d="M1488.1 370.8V472.2" stroke="#0000a0" stroke-width="6.8"/>
<path d="M1473.3 370.8H1502.9M1473.3 472.2H1502.9" stroke="#0000a0" stroke-width="6.4" stroke-linecap="round"/>
<path d="M1587 595.3L1605.1 613.4M1558.3 595.3L1605.1 642.1M1558.3 624L1605.1 670.8M1558.3 652.7L1605.1 699.5M1558.3 681.4L1605.1 728.2M1558.3 710.1L1605.1 756.9M1558.3 738.8L1605.1 785.6M1558.3 767.5L1605.1 814.3M1558.3 796.2L1605.1 843M1558.3 824.9L1605.1 871.7M1558.3 853.6L1605.1 900.4M1558.3 882.3L1605.1 929.1M1558.3 911L1605.1 957.8M1558.3 939.7L1605.1 986.5M1558.3 968.4L1605.1 1015.2M1558.3 997.1L1605.1 1043.9M1558.3 1025.8L1605.1 1072.6M1558.3 1054.5L1605.1 1101.3M1558.3 1083.2L1605.1 1130M1558.3 1111.9L1605.1 1158.7M1558.3 1140.6L1605.1 1187.4M1558.3 1169.3L1605.1 1216.1M1558.3 1198L1605.1 1244.8M1558.3 1226.7L1605.1 1273.5M1558.3 1255.4L1605.1 1302.2M1558.3 1284.1L1605.1 1330.9M1558.3 1312.8L1605.1 1359.6M1558.3 1341.5L1605.1 1388.3M1558.3 1370.2L1605.1 1417M1558.3 1398.9L1605.1 1445.7M1558.3 1427.6L1605.1 1474.4M1558.3 1456.3L1605.1 1503.1M1558.3 1485L1595.6 1522.2M1558.3 1513.7L1566.9 1522.2" stroke="#0000ff" stroke-width="7.1"/>
<rect x="1558.3" y="595.3" width="46.8" height="927" stroke="#0000ff" stroke-width="8.2" stroke-linejoin="round"/>
<path d="M1558.6 595.3V1522.2" stroke="#0000ff" stroke-width="8.9"/>
<path d="M1605.4 595.3V1522.2" stroke="#0000ff" stroke-width="8.9"/>
<path d="M1581.7 566.3V624.2" stroke="#0000ff" stroke-width="6.8"/>
<path d="M1566.9 566.3H1596.5M1566.9 624.2H1596.5" stroke="#0000ff" stroke-width="6.4" stroke-linecap="round"/>
<path d="M1605.1 643.7L1639 609.8M1605.1 672.4L1651.9 625.6M1605.1 701.1L1651.9 654.3M1605.1 729.8L1651.9 683M1605.1 758.5L1651.9 711.7M1605.1 787.2L1651.9 740.4M1605.1 815.9L1651.9 769.1M1605.1 844.6L1651.9 797.8M1605.1 873.3L1651.9 826.5M1605.1 902L1651.9 855.2M1605.1 930.7L1651.9 883.9M1605.1 959.4L1651.9 912.6M1605.1 988.1L1651.9 941.3M1605.1 1016.8L1651.9 970M1605.1 1045.5L1651.9 998.7M1605.1 1074.2L1651.9 1027.4M1605.1 1102.9L1651.9 1056.1M1605.1 1131.6L1651.9 1084.8M1605.1 1160.3L1651.9 1113.5M1605.1 1189L1651.9 1142.2M1605.1 1217.7L1651.9 1170.9M1605.1 1246.4L1651.9 1199.6M1605.1 1275.1L1651.9 1228.3M1605.1 1303.8L1651.9 1257M1605.1 1332.5L1651.9 1285.7M1605.1 1361.2L1651.9 1314.4M1605.1 1389.9L1651.9 1343.1M1605.1 1418.6L1651.9 1371.8M1605.1 1447.3L1651.9 1400.5M1605.1 1476L1651.9 1429.2M1605.1 1504.7L1651.9 1457.9M1616.2 1522.2L1651.9 1486.6" stroke="#ff00ff" stroke-width="7.1"/>
<rect x="1605.1" y="609.8" width="46.8" height="912.5" stroke="#ff00ff" stroke-width="8.2" stroke-linejoin="round"/>
<path d="M1605.3 609.8V1522.2" stroke="#ff00ff" stroke-width="8.9"/>
<path d="M1652.1 609.8V1522.2" stroke="#ff00ff" stroke-width="8.9"/>
<path d="M1628.5 551.8V667.7" stroke="#ff00ff" stroke-width="6.8"/>
<path d="M1613.7 551.8H1643.3M1613.7 667.7H1643.3" stroke="#ff00ff" stroke-width="6.4" stroke-linecap="round"/>
<path d="M1651.8 537.3L1698.6 584.1M1651.8 580L1698.6 626.8M1651.8 622.6L1698.6 669.4M1651.8 665.2L1698.6 712M1651.8 707.9L1698.6 754.7M1651.8 750.5L1698.6 797.3M1651.8 793.1L1698.6 839.9M1651.8 835.7L1698.6 882.5M1651.8 878.4L1698.6 925.2M1651.8 921L1698.6 967.8M1651.8 963.6L1698.6 1010.4M1651.8 1006.3L1698.6 1053.1M1651.8 1048.9L1698.6 1095.7M1651.8 1091.5L1698.6 1138.3M1651.8 1134.2L1698.6 1181M1651.8 1176.8L1698.6 1223.6M1651.8 1219.4L1698.6 1266.2M1651.8 1262L1698.6 1308.8M1651.8 1304.7L1698.6 1351.5M1651.8 1347.3L1698.6 1394.1M1651.8 1389.9L1698.6 1436.7M1651.8 1432.6L1698.6 1479.4M1651.8 1475.2L1698.6 1522" stroke="#008000" stroke-width="7.1"/>
<rect x="1651.8" y="537.3" width="46.8" height="984.9" stroke="#008000" stroke-width="8.2" stroke-linejoin="round"/>
<path d="M1652.1 537.3V1522.2" stroke="#008000" stroke-width="8.9"/>
<path d="M1698.9 537.3V1522.2" stroke="#008000" stroke-width="8.9"/>
<path d="M1675.2 501.1V573.5" stroke="#008000" stroke-width="6.8"/>
<path d="M1660.4 501.1H1690M1660.4 573.5H1690" stroke="#008000" stroke-width="6.4" stroke-linecap="round"/>
<path d="M1698.6 812L1745.4 765.2M1698.6 897.2L1745.4 850.4M1698.6 1238.3L1745.4 1191.5M1698.6 1408.8L1745.4 1362M1698.6 1494.1L1745.4 1447.3" stroke="url(#dl)" stroke-width="7.1"/>
<path d="M1698.6 556.2L1745.4 509.4M1698.6 598.8L1745.4 552M1698.6 641.5L1745.4 594.7M1698.6 684.1L1745.4 637.3M1698.6 726.7L1745.4 679.9M1698.6 769.4L1745.4 722.6M1698.6 854.6L1745.4 807.8M1698.6 939.9L1745.4 893.1M1698.6 982.5L1745.4 935.7M1698.6 1025.1L1745.4 978.3M1698.6 1067.8L1745.4 1021M1698.6 1110.4L1745.4 1063.6M1698.6 1153L1745.4 1106.2M1698.6 1195.7L1745.4 1148.9M1698.6 1280.9L1745.4 1234.1M1698.6 1323.5L1745.4 1276.7M1698.6 1366.2L1745.4 1319.4M1698.6 1451.4L1745.4 1404.6M1713 1522.2L1745.4 1489.9" stroke="#0000a0" stroke-width="7.1"/>
<rect x="1698.6" y="508.4" width="46.8" height="1013.9" stroke="#0000a0" stroke-width="8.2" stroke-linejoin="round"/>
<path d="M1699.2 508.4V1522.2" stroke="#0000a0" stroke-width="8.1"/>
<path d="M1745.6 508.4V1522.2" stroke="#0000a0" stroke-width="8.9"/>
<path d="M1722 472.2V544.6" stroke="#0000a0" stroke-width="6.8"/>
<path d="M1707.2 472.2H1736.8M1707.2 544.6H1736.8" stroke="#0000a0" stroke-width="6.4" stroke-linecap="round"/>
<path d="M1820 754.6L1838.1 772.7M1791.3 754.6L1838.1 801.4M1791.3 783.3L1838.1 830.1M1791.3 812L1838.1 858.8M1791.3 840.7L1838.1 887.5M1791.3 869.4L1838.1 916.2M1791.3 898.1L1838.1 944.9M1791.3 926.8L1838.1 973.6M1791.3 955.5L1838.1 1002.3M1791.3 984.2L1838.1 1031M1791.3 1012.9L1838.1 1059.7M1791.3 1041.6L1838.1 1088.4M1791.3 1070.3L1838.1 1117.1M1791.3 1099L1838.1 1145.8M1791.3 1127.7L1838.1 1174.5M1791.3 1156.4L1838.1 1203.2M1791.3 1185.1L1838.1 1231.9M1791.3 1213.8L1838.1 1260.6M1791.3 1242.5L1838.1 1289.3M1791.3 1271.2L1838.1 1318M1791.3 1299.9L1838.1 1346.7M1791.3 1328.6L1838.1 1375.4M1791.3 1357.3L1838.1 1404.1M1791.3 1386L1838.1 1432.8M1791.3 1414.7L1838.1 1461.5M1791.3 1443.4L1838.1 1490.2M1791.3 1472.1L1838.1 1518.9M1791.3 1500.8L1812.8 1522.2" stroke="#0000ff" stroke-width="7.1"/>
<rect x="1791.3" y="754.6" width="46.8" height="767.7" stroke="#0000ff" stroke-width="8.2" stroke-linejoin="round"/>
<path d="M1791.6 754.6V1522.2" stroke="#0000ff" stroke-width="8.9"/>
<path d="M1838.4 754.6V1522.2" stroke="#0000ff" stroke-width="8.9"/>
<path d="M1814.7 711.1V798" stroke="#0000ff" stroke-width="6.8"/>
<path d="M1799.9 711.1H1829.5M1799.9 798H1829.5" stroke="#0000ff" stroke-width="6.4" stroke-linecap="round"/>
<path d="M1838.1 665.4L1872 631.5M1838.1 694.1L1884.9 647.3M1838.1 722.8L1884.9 676M1838.1 751.5L1884.9 704.7M1838.1 780.2L1884.9 733.4M1838.1 808.9L1884.9 762.1M1838.1 837.6L1884.9 790.8M1838.1 866.3L1884.9 819.5M1838.1 895L1884.9 848.2M1838.1 923.7L1884.9 876.9M1838.1 952.4L1884.9 905.6M1838.1 981.1L1884.9 934.3M1838.1 1009.8L1884.9 963M1838.1 1038.5L1884.9 991.7M1838.1 1067.2L1884.9 1020.4M1838.1 1095.9L1884.9 1049.1M1838.1 1124.6L1884.9 1077.8M1838.1 1153.3L1884.9 1106.5M1838.1 1182L1884.9 1135.2M1838.1 1210.7L1884.9 1163.9M1838.1 1239.4L1884.9 1192.6M1838.1 1268.1L1884.9 1221.3M1838.1 1296.8L1884.9 1250M1838.1 1325.5L1884.9 1278.7M1838.1 1354.2L1884.9 1307.4M1838.1 1382.9L1884.9 1336.1M1838.1 1411.6L1884.9 1364.8M1838.1 1440.3L1884.9 1393.5M1838.1 1469L1884.9 1422.2M1838.1 1497.7L1884.9 1450.9M1842.2 1522.2L1884.9 1479.6M1870.9 1522.2L1884.9 1508.3" stroke="#ff00ff" stroke-width="7.1"/>
<rect x="1838.1" y="631.5" width="46.8" height="890.8" stroke="#ff00ff" stroke-width="8.2" stroke-linejoin="round"/>
<path d="M1838.3 631.5V1522.2" stroke="#ff00ff" stroke-width="8.9"/>
<path d="M1885.1 631.5V1522.2" stroke="#ff00ff" stroke-width="8.9"/>
<path d="M1861.5 588V674.9" stroke="#ff00ff" stroke-width="6.8"/>
<path d="M1846.7 588H1876.3M1846.7 674.9H1876.3" stroke="#ff00ff" stroke-width="6.4" stroke-linecap="round"/>
<path d="M1884.9 674.9L1931.7 721.7M1884.9 717.6L1931.7 764.4M1884.9 760.2L1931.7 807M1884.9 802.8L1931.7 849.6M1884.9 845.5L1931.7 892.3M1884.9 888.1L1931.7 934.9M1884.9 930.7L1931.7 977.5M1884.9 973.3L1931.7 1020.1M1884.9 1016L1931.7 1062.8M1884.9 1058.6L1931.7 1105.4M1884.9 1101.2L1931.7 1148M1884.9 1143.9L1931.7 1190.7M1884.9 1186.5L1931.7 1233.3M1884.9 1229.1L1931.7 1275.9M1884.9 1271.8L1931.7 1318.6M1884.9 1314.4L1931.7 1361.2M1884.9 1357L1931.7 1403.8M1884.9 1399.6L1931.7 1446.4M1884.9 1442.3L1931.7 1489.1M1884.9 1484.9L1922.2 1522.2" stroke="#008000" stroke-width="7.1"/>
<rect x="1884.9" y="674.9" width="46.8" height="847.3" stroke="#008000" stroke-width="8.2" stroke-linejoin="round"/>
<path d="M1885.1 674.9V1522.2" stroke="#008000" stroke-width="8.9"/>
<path d="M1931.9 674.9V1522.2" stroke="#008000" stroke-width="8.9"/>
<path d="M1908.3 624.2V725.6" stroke="#008000" stroke-width="6.8"/>
<path d="M1893.5 624.2H1923.1M1893.5 725.6H1923.1" stroke="#008000" stroke-width="6.4" stroke-linecap="round"/>
<path d="M1931.6 643.1L1969.1 605.7M1968.1 734.5L1978.4 724.2M1968.1 819.8L1978.4 809.5M1931.6 898.9L1969.1 861.4M1968.1 990.3L1978.4 980M1931.6 1154.7L1969.1 1117.2M1931.6 1239.9L1969.1 1202.5M1968.1 1331.3L1978.4 1321M1968.1 1416.6L1978.4 1406.3M1931.6 1495.7L1969.1 1458.3" stroke="url(#dl)" stroke-width="7.1"/>
<path d="M1969.1 605.7L1978.4 596.3M1931.6 685.7L1978.4 638.9M1931.6 728.4L1978.4 681.6M1931.6 771L1968.1 734.5M1931.6 813.6L1978.4 766.8M1931.6 856.3L1968.1 819.8M1969.1 861.4L1978.4 852.1M1931.6 941.5L1978.4 894.7M1931.6 984.1L1978.4 937.3M1931.6 1026.8L1968.1 990.3M1931.6 1069.4L1978.4 1022.6M1931.6 1112L1978.4 1065.2M1969.1 1117.2L1978.4 1107.9M1931.6 1197.3L1978.4 1150.5M1969.1 1202.5L1978.4 1193.1M1931.6 1282.6L1978.4 1235.8M1931.6 1325.2L1978.4 1278.4M1931.6 1367.8L1968.1 1331.3M1931.6 1410.4L1978.4 1363.6M1931.6 1453.1L1968.1 1416.6M1969.1 1458.3L1978.4 1448.9M1947.7 1522.2L1978.4 1491.5" stroke="#0000a0" stroke-width="7.1"/>
<rect x="1931.6" y="595.3" width="46.8" height="927" stroke="#0000a0" stroke-width="8.2" stroke-linejoin="round"/>
<path d="M1932.2 595.3V1522.2" stroke="#0000a0" stroke-width="8.1"/>
<path d="M1978.7 595.3V1522.2" stroke="#0000a0" stroke-width="8.9"/>
<path d="M1955 551.8V638.7" stroke="#0000a0" stroke-width="6.8"/>
<path d="M1940.2 551.8H1969.8M1940.2 638.7H1969.8" stroke="#0000a0" stroke-width="6.4" stroke-linecap="round"/>
<path d="M2054.2 812.5L2072.3 830.6M2025.5 812.5L2072.3 859.3M2025.5 841.2L2072.3 888M2025.5 869.9L2072.3 916.7M2025.5 898.6L2072.3 945.4M2025.5 927.3L2072.3 974.1M2025.5 956L2072.3 1002.8M2025.5 984.7L2072.3 1031.5M2025.5 1013.4L2072.3 1060.2M2025.5 1042.1L2072.3 1088.9M2025.5 1070.8L2072.3 1117.6M2025.5 1099.5L2072.3 1146.3M2025.5 1128.2L2072.3 1175M2025.5 1156.9L2072.3 1203.7M2025.5 1185.6L2072.3 1232.4M2025.5 1214.3L2072.3 1261.1M2025.5 1243L2072.3 1289.8M2025.5 1271.7L2072.3 1318.5M2025.5 1300.4L2072.3 1347.2M2025.5 1329.1L2072.3 1375.9M2025.5 1357.8L2072.3 1404.6M2025.5 1386.5L2072.3 1433.3M2025.5 1415.2L2072.3 1462M2025.5 1443.9L2072.3 1490.7M2025.5 1472.6L2072.3 1519.4M2025.5 1501.3L2046.4 1522.2" stroke="#0000ff" stroke-width="7.1"/>
<rect x="2025.5" y="812.5" width="46.8" height="709.7" stroke="#0000ff" stroke-width="8.2" stroke-linejoin="round"/>
<path d="M2025.7 812.5V1522.2" stroke="#0000ff" stroke-width="8.9"/>
<path d="M2072.5 812.5V1522.2" stroke="#0000ff" stroke-width="8.9"/>
<path d="M2048.9 761.8V863.2" stroke="#0000ff" stroke-width="6.8"/>
<path d="M2034.1 761.8H2063.7M2034.1 863.2H2063.7" stroke="#0000ff" stroke-width="6.4" stroke-linecap="round"/>
<path d="M2072.2 759.5L2106.1 725.6M2072.2 788.2L2119 741.4M2072.2 816.9L2119 770.1M2072.2 845.6L2119 798.8M2072.2 874.3L2119 827.5M2072.2 903L2119 856.2M2072.2 931.7L2119 884.9M2072.2 960.4L2119 913.6M2072.2 989.1L2119 942.3M2072.2 1017.8L2119 971M2072.2 1046.5L2119 999.7M2072.2 1075.2L2119 1028.4M2072.2 1103.9L2119 1057.1M2072.2 1132.6L2119 1085.8M2072.2 1161.3L2119 1114.5M2072.2 1190L2119 1143.2M2072.2 1218.7L2119 1171.9M2072.2 1247.4L2119 1200.6M2072.2 1276.1L2119 1229.3M2072.2 1304.8L2119 1258M2072.2 1333.5L2119 1286.7M2072.2 1362.2L2119 1315.4M2072.2 1390.9L2119 1344.1M2072.2 1419.6L2119 1372.8M2072.2 1448.3L2119 1401.5M2072.2 1477L2119 1430.2M2072.2 1505.7L2119 1458.9M2084.4 1522.2L2119 1487.6" stroke="#ff00ff" stroke-width="7.1"/>
<rect x="2072.2" y="725.6" width="46.8" height="796.6" stroke="#ff00ff" stroke-width="8.2" stroke-linejoin="round"/>
<path d="M2072.5 725.6V1522.2" stroke="#ff00ff" stroke-width="8.9"/>
<path d="M2119.3 725.6V1522.2" stroke="#ff00ff" stroke-width="8.9"/>
<path d="M2095.6 674.9V776.3" stroke="#ff00ff" stroke-width="6.8"/>
<path d="M2080.8 674.9H2110.4M2080.8 776.3H2110.4" stroke="#ff00ff" stroke-width="6.4" stroke-linecap="round"/>
<path d="M2119 696.7L2165.8 743.5M2119 739.3L2165.8 786.1M2119 781.9L2165.8 828.7M2119 824.6L2165.8 871.4M2119 867.2L2165.8 914M2119 909.8L2165.8 956.6M2119 952.4L2165.8 999.2M2119 995.1L2165.8 1041.9M2119 1037.7L2165.8 1084.5M2119 1080.3L2165.8 1127.1M2119 1123L2165.8 1169.8M2119 1165.6L2165.8 1212.4M2119 1208.2L2165.8 1255M2119 1250.9L2165.8 1297.7M2119 1293.5L2165.8 1340.3M2119 1336.1L2165.8 1382.9M2119 1378.7L2165.8 1425.5M2119 1421.4L2165.8 1468.2M2119 1464L2165.8 1510.8M2119 1506.6L2134.6 1522.2" stroke="#008000" stroke-width="7.1"/>
<rect x="2119" y="696.7" width="46.8" height="825.6" stroke="#008000" stroke-width="8.2" stroke-linejoin="round"/>
<path d="M2119.2 696.7V1522.2" stroke="#008000" stroke-width="8.9"/>
<path d="M2166 696.7V1522.2" stroke="#008000" stroke-width="8.9"/>
<path d="M2142.4 667.7V725.6" stroke="#008000" stroke-width="6.8"/>
<path d="M2127.6 667.7H2157.2M2127.6 725.6H2157.2" stroke="#008000" stroke-width="6.4" stroke-linecap="round"/>
<path d="M2165.8 844.2L2212.6 797.4M2165.8 929.5L2212.6 882.7M2165.8 1185.3L2212.6 1138.5M2165.8 1270.5L2212.6 1223.7" stroke="url(#dl)" stroke-width="7.1"/>
<path d="M2162.3 711.1H2207.8" stroke="url(#dl)" stroke-width="8.2"/>
<path d="M2166.4 707V1522.2" stroke="url(#dl)" stroke-width="8.1"/>
<path d="M2207.8 711.1H2212.8V1522.2" stroke="#0000a0" stroke-width="8.5" stroke-linejoin="round"/>
<path d="M2165.8 759L2212.6 712.2M2165.8 801.6L2212.6 754.8M2165.8 886.9L2212.6 840.1M2165.8 972.1L2212.6 925.3M2165.8 1014.8L2212.6 968M2165.8 1057.4L2212.6 1010.6M2165.8 1100L2212.6 1053.2M2165.8 1142.6L2212.6 1095.8M2165.8 1227.9L2212.6 1181.1M2165.8 1313.2L2212.6 1266.4M2165.8 1355.8L2212.6 1309M2165.8 1398.4L2212.6 1351.6M2165.8 1441.1L2212.6 1394.3M2165.8 1483.7L2212.6 1436.9M2169.8 1522.2L2212.6 1479.5" stroke="#0000a0" stroke-width="7.1"/>
<path d="M2189.2 660.5V761.8" stroke="#0000a0" stroke-width="6.8"/>
<path d="M2174.4 660.5H2204M2174.4 761.8H2204" stroke="#0000a0" stroke-width="6.4" stroke-linecap="round"/>
</g>
<g fill="none" stroke="#000" shape-rendering="crispEdges">
<rect x="295.6" y="36" width="2010.9" height="1486.3" stroke-width="12.8" stroke-linejoin="round"/>
<path d="M295.6 1522.2H264.9M295.6 1377.4H279.9M295.6 1232.6H264.9M295.6 1087.7H279.9M295.6 942.9H264.9M295.6 798H279.9M295.6 653.2H264.9M295.6 508.4H279.9M295.6 363.5H264.9M295.6 218.7H279.9M295.6 73.8H264.9" stroke-width="12" stroke-linecap="round"/>
<path d="M365.8 1522.2V1537.2M482.7 1522.2V1552.5M599.6 1522.2V1537.2M716.5 1522.2V1552.5M833.4 1522.2V1537.2M950.4 1522.2V1552.5M1067.3 1522.2V1537.2M1184.2 1522.2V1552.5M1301.1 1522.2V1537.2M1418 1522.2V1552.5M1534.9 1522.2V1537.2M1651.8 1522.2V1552.5M1768.8 1522.2V1537.2M1885 1522.2V1552.5M2002.6 1522.2V1537.2M2119.5 1522.2V1552.5M2236.4 1522.2V1537.2" stroke-width="13" stroke-linecap="round"/>
</g>
<g font-size="90" text-anchor="end">
<text transform="translate(245.2 1546.5) scale(0.975 1)">0</text>
<text transform="translate(245.2 1256.9) scale(0.975 1)">40</text>
<text transform="translate(245.2 967.2) scale(0.975 1)">80</text>
<text transform="translate(245.2 677.5) scale(0.975 1)">120</text>
<text transform="translate(245.2 387.8) scale(0.975 1)">160</text>
<text transform="translate(245.2 98.1) scale(0.975 1)">200</text>
</g>
<g font-size="97.8" text-anchor="middle">
<text transform="translate(483.2 1644.6) scale(0.965 1)">300</text>
<text transform="translate(717 1644.6) scale(0.965 1)">350</text>
<text transform="translate(950.9 1644.6) scale(0.965 1)">400</text>
<text transform="translate(1184.7 1644.6) scale(0.965 1)">450</text>
<text transform="translate(1418.5 1644.6) scale(0.965 1)">500</text>
<text transform="translate(1652.3 1644.6) scale(0.965 1)">550</text>
<text transform="translate(1886.2 1644.6) scale(0.965 1)">600</text>
<text transform="translate(2120 1644.6) scale(0.965 1)">650</text>
</g>
<text transform="translate(1121.3 1751) scale(0.987 1)" font-size="94">Temperature (K)</text>
<text transform="translate(92.6 1168.5) rotate(-90)" font-size="95.2">Number of H-bond</text>
<rect x="1862.5" y="110.5" width="372.8" height="404.3" fill="#fff" stroke="#000" stroke-width="3.3" shape-rendering="crispEdges"/>
<g fill="none" shape-rendering="crispEdges">
<path d="M2024 127.7L2041.7 145.4M1995.3 127.7L2041.7 174.1M1966.6 127.7L2041.7 202.8M1937.9 127.7L2017.4 207.2M1909.2 127.7L1988.7 207.2M1880.5 127.7L1960 207.2M1880.5 156.4L1931.3 207.2M1880.5 185.1L1902.6 207.2" stroke="#0000ff" stroke-width="7.1"/>
<rect x="1880.5" y="127.7" width="161.2" height="79.5" stroke="#0000ff" stroke-width="8.2" stroke-linejoin="round"/>
<path d="M1880.5 259.9L1914.4 226M1880.5 288.6L1943.1 226M1892.3 305.5L1971.8 226M1921 305.5L2000.5 226M1949.7 305.5L2029.2 226M1978.4 305.5L2041.7 242.2M2007.1 305.5L2041.7 270.9" stroke="#ff00ff" stroke-width="7.1"/>
<rect x="1880.5" y="226" width="161.2" height="79.5" stroke="#ff00ff" stroke-width="8.2" stroke-linejoin="round"/>
<path d="M2008.4 324.3L2041.7 357.6M1965.8 324.3L2041.7 400.2M1923.1 324.3L2002.6 403.8M1880.5 324.3L1960 403.8M1880.5 366.9L1917.4 403.8" stroke="#008000" stroke-width="7.1"/>
<rect x="1880.5" y="324.3" width="161.2" height="79.5" stroke="#008000" stroke-width="8.2" stroke-linejoin="round"/>
<path d="M2006 423.1H2045.8M2006 502.6H2045.8M2041.7 423.1V502.6" stroke="url(#dl)" stroke-width="8.2"/>
<path d="M2006 423.1H1880.5V502.6H2006" stroke="#0000a0" stroke-width="8.2" stroke-linejoin="round"/>
<path d="M1880.5 470.9L1928.3 423.1M1891.5 502.6L1971 423.1M1934.1 502.6L2013.6 423.1M1976.7 502.6L2041.7 437.6M2019.3 502.6L2041.7 480.3" stroke="#0000a0" stroke-width="7.1"/>
</g>
<g font-size="82">
<text x="2063.5" y="192.7">3%</text>
<text x="2063.5" y="290.4">6%</text>
<text x="2063.5" y="388.1">9%</text>
<text x="2063.5" y="485.8">12%</text>
</g>
</svg></body></html>
